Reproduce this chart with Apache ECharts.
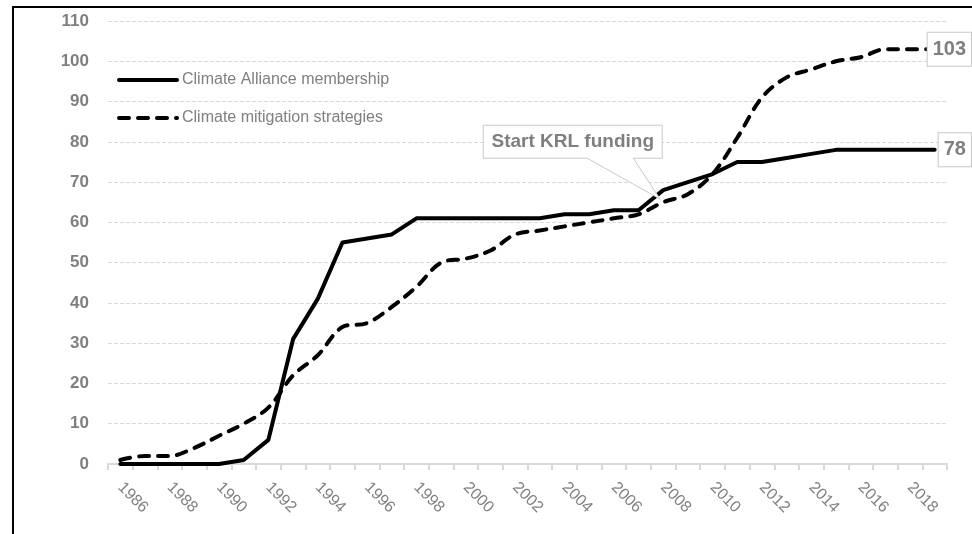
<!DOCTYPE html>
<html>
<head>
<meta charset="utf-8">
<script src="https://cdn.jsdelivr.net/npm/echarts@6/dist/echarts.min.js"></script>
<style>
  html, body { margin: 0; padding: 0; background: #ffffff; }
  #chart { width: 972px; height: 534px; }
</style>
</head>
<body>
<div id="chart"></div>
<script>
// Years on the category axis
const years = ['1986','1987','1988','1989','1990','1991','1992','1993','1994','1995',
               '1996','1997','1998','1999','2000','2001','2002','2003','2004','2005',
               '2006','2007','2008','2009','2010','2011','2012','2013','2014','2015',
               '2016','2017','2018','2019'];

// Number of municipalities in the Climate Alliance
const membership = [0, 0, 0, 0, 0, 1, 6, 31, 41, 55,
                    56, 57, 61, 61, 61, 61, 61, 61, 62, 62,
                    63, 63, 68, 70, 72, 75, 75, 76, 77, 78,
                    78, 78, 78, 78];

// Number of municipalities with a climate mitigation strategy
const strategies = [1, 2, 2, 4, 7, 10, 14, 22, 27, 34,
                    35, 39, 44, 50, 51, 53, 57, 58, 59, 60,
                    61, 62, 65, 67, 72, 81, 91, 96, 98, 100,
                    101, 103, 103, 103];

// Value axis
const yMin = 0, yMax = 110, yStep = 10;

// Callout anchored to a data point
const noteYear = '2008';
const noteValue = strategies[years.indexOf(noteYear)];
const noteText = 'Start KRL funding';

const FONT = "'Liberation Sans', Arial, sans-serif";
const GRAY = '#7f7f7f';
const LIGHT = '#d9d9d9';

const chart = echarts.init(document.getElementById('chart'), null, { renderer: 'canvas' });

const endLabelStyle = {
  show: true,
  formatter: p => String(p.value),
  fontFamily: FONT,
  fontSize: 20,
  fontWeight: 'bold',
  color: GRAY,
  backgroundColor: '#ffffff',
  borderColor: '#c8c8c8',
  borderWidth: 1,
  padding: [7, 5, 6, 5],
  distance: 4
};

chart.setOption({
  animation: false,
  grid: { left: 108, right: 25, top: 21, bottom: 70, containLabel: false },
  legend: {
    orient: 'vertical',
    left: 117,
    top: 72,
    padding: 0,
    itemWidth: 58,
    itemHeight: 14,
    itemGap: 22,
    textStyle: { fontFamily: FONT, fontSize: 16, color: GRAY },
    lineStyle: { width: 4 },
    itemStyle: { opacity: 0 },
    data: ['Climate Alliance membership', 'Climate mitigation strategies']
  },
  xAxis: {
    type: 'category',
    data: years,
    boundaryGap: true,
    axisLine: { lineStyle: { color: LIGHT, width: 2 } },
    axisTick: { show: true, interval: 0, length: 6, lineStyle: { color: LIGHT, width: 2 } },
    axisLabel: {
      interval: 1,
      rotate: -45,
      margin: 21,
      fontFamily: FONT,
      fontSize: 16,
      color: GRAY
    },
    splitLine: { show: false }
  },
  yAxis: {
    type: 'value',
    min: yMin,
    max: yMax,
    interval: yStep,
    axisLine: { show: false },
    axisTick: { show: false },
    axisLabel: {
      margin: 19,
      fontFamily: FONT,
      fontSize: 17,
      fontWeight: 'bold',
      color: GRAY
    },
    splitLine: { lineStyle: { color: LIGHT, width: 1, type: [4, 2] } }
  },
  series: [
    {
      name: 'Climate Alliance membership',
      type: 'line',
      data: membership,
      symbol: 'none',
      lineStyle: { color: '#000000', width: 4, cap: 'round', join: 'round' },
      itemStyle: { color: '#000000' },
      endLabel: Object.assign({}, endLabelStyle),
      z: 3
    },
    {
      name: 'Climate mitigation strategies',
      type: 'line',
      data: strategies,
      symbol: 'none',
      smooth: 0.35,
      lineStyle: { color: '#000000', width: 4, type: [10, 9], cap: 'round' },
      itemStyle: { color: '#000000' },
      endLabel: Object.assign({}, endLabelStyle, { offset: [-11, 0] }),
      z: 3
    }
  ]
});

// Callout box and the frame around the figure
const tip = chart.convertToPixel({ gridIndex: 0 }, [years.indexOf(noteYear), noteValue]);
const bx0 = tip[0] - 180, bx1 = tip[0] - 1;
const by0 = tip[1] - 77, by1 = tip[1] - 44;

chart.setOption({
  graphic: [
    {
      type: 'polyline',
      silent: true,
      z: 100,
      shape: { points: [[13, 534], [13, 7], [972, 7]] },
      style: { stroke: '#000000', lineWidth: 2, fill: null }
    },
    {
      type: 'polygon',
      silent: true,
      z: 50,
      shape: {
        points: [
          [bx0, by0], [bx1, by0], [bx1, by1],
          [tip[0] - 30, by1], [tip[0] - 3, tip[1] - 3], [tip[0] - 76, by1],
          [bx0, by1]
        ]
      },
      style: { fill: '#ffffff', stroke: '#c8c8c8', lineWidth: 1 }
    },
    {
      type: 'text',
      silent: true,
      z: 51,
      x: (bx0 + bx1) / 2,
      y: (by0 + by1) / 2,
      style: {
        text: noteText,
        fontFamily: FONT,
        fontSize: 19,
        fontWeight: 'bold',
        fill: GRAY,
        align: 'center',
        verticalAlign: 'middle'
      }
    }
  ]
});
</script>
</body>
</html>
